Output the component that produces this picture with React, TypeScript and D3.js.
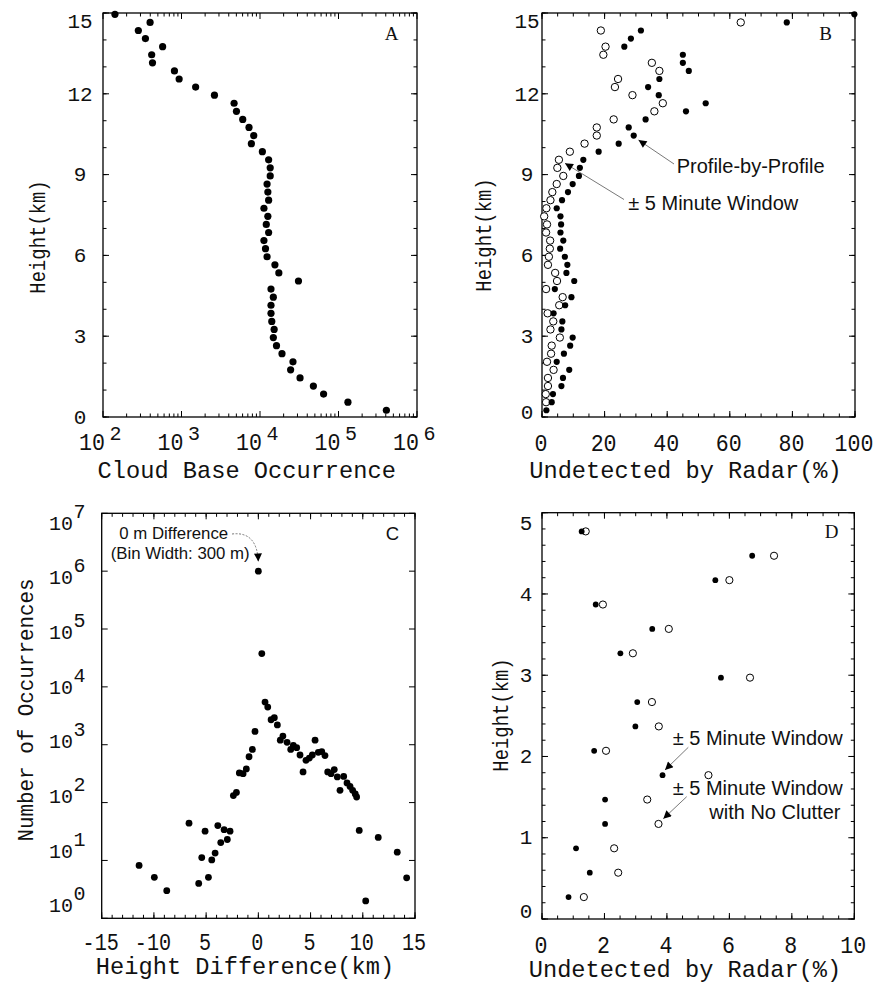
import React from 'react';
import * as d3 from 'd3';

const MONO = "'Liberation Mono','Courier New',monospace";
const SANS = "'Liberation Sans',Arial,Helvetica,sans-serif";
const SERIF = "'Liberation Serif','Times New Roman',serif";

// ---------- Panel A / B shared heights (km) ----------
const heightsAB = [14.95, 14.65, 14.35, 14.05, 13.75, 13.45, 13.15, 12.85, 12.55, 12.25, 11.95, 11.65, 11.35, 11.05, 10.75, 10.45, 10.15, 9.85, 9.55, 9.25, 8.95, 8.65, 8.35, 8.05, 7.75, 7.45, 7.15, 6.85, 6.55, 6.25, 5.95, 5.65, 5.35, 5.05, 4.75, 4.45, 4.15, 3.85, 3.55, 3.25, 2.95, 2.65, 2.35, 2.05, 1.75, 1.45, 1.15, 0.85, 0.55, 0.25];

// ---------- Panel A: cloud base occurrence ----------
const cloudBaseOccurrence = [142, 398, 282, 347, 575, 417, 427, 813, 933, 1514, 2630, 4677, 5012, 6026, 7244, 8318, 7762, 10715, 12882, 13490, 13490, 12303, 12589, 12882, 11220, 12589, 12023, 12882, 11220, 11749, 12303, 15488, 17378, 30903, 13804, 14791, 13804, 13804, 14125, 15136, 14791, 16218, 19055, 26303, 24547, 32359, 47863, 64565, 131826, 407380];

// ---------- Panel B: undetected by radar (%) ----------
const profileByProfile = [99.8, 78.2, 31.6, 28.4, 26.3, 45.0, 45.0, 46.9, 37.5, 33.9, 37.3, 52.3, 46.0, 33.1, 27.7, 29.3, 24.5, 18.1, 13.2, 12.1, 11.8, 9.8, 8.3, 6.4, 4.7, 5.9, 6.1, 5.9, 6.8, 5.8, 7.3, 8.1, 7.8, 10.3, 4.1, 9.4, 7.4, 3.7, 6.5, 6.2, 9.8, 9.0, 7.0, 4.7, 8.7, 6.7, 6.2, 3.5, 3.1, 1.4];
const fiveMinuteWindowB = [null, 63.5, 18.8, null, 20.3, 19.6, 35.1, 37.5, 24.3, 23.3, 28.9, 38.6, 35.9, 22.9, 17.5, 17.5, 13.6, 8.9, 5.4, 4.9, 6.8, 4.7, 3.3, 2.7, 1.4, 0.7, 1.6, 1.3, 2.6, 2.5, 2.2, 1.9, 4.2, 4.8, 1.3, 6.6, 5.5, 1.8, 3.6, 2.7, 5.7, 3.1, 2.9, 1.6, 3.7, 1.9, 1.9, 1.2, 1.3, null];

// ---------- Panel C: height difference histogram ----------
const heightDiff = [-11.42, -9.96, -8.77, -6.64, -5.71, -5.42, -5.1, -4.78, -4.46, -4.14, -3.88, -3.6, -3.28, -2.97, -2.71, -2.39, -2.1, -1.82, -1.46, -1.15, -0.89, -0.57, -0.32, 0.0, 0.33, 0.64, 0.9, 1.22, 1.53, 1.82, 2.1, 2.35, 2.75, 3.1, 3.35, 3.67, 3.99, 4.28, 4.56, 4.88, 5.17, 5.43, 5.74, 6.07, 6.38, 6.64, 6.96, 7.27, 7.56, 7.82, 8.17, 8.49, 8.78, 9.03, 9.28, 9.41, 9.66, 10.28, 11.48, 13.3, 14.2];
const occurrences = [8.2, 5.1, 3.0, 44, 4.0, 11.2, 32, 5.1, 10.2, 13.4, 40, 20.4, 34, 23, 32, 132, 150, 325, 316, 382, 620, 830, 1700, 1000000, 37600, 5450, 4470, 2700, 2930, 2200, 1200, 1410, 1100, 830, 970, 890, 665, 339, 537, 588, 665, 1200, 740, 760, 650, 339, 316, 372, 278, 163, 283, 219, 190, 163, 141, 125, 33, 2.0, 25, 13.9, 5.0];

// ---------- Panel D ----------
const heightsD = [4.77, 4.47, 4.17, 3.87, 3.57, 3.27, 2.97, 2.67, 2.37, 2.07, 1.77, 1.47, 1.17, 0.87, 0.57, 0.27];
const fiveMinuteWindowD = [1.27, 6.73, 5.55, 1.72, 3.53, 2.51, 5.73, 3.05, 2.99, 1.67, 3.86, 2.02, 2.02, 1.09, 1.53, 0.85];
const noClutterD = [1.40, 7.43, 6.00, 1.95, 4.06, 2.91, 6.66, 3.52, 3.74, 2.05, 5.33, 3.37, 3.73, 2.31, 2.44, 1.34];

// ---------- Tick labels ----------
const heightTicksAB = [0, 3, 6, 9, 12, 15];
const occurrenceExponents = [2, 3, 4, 5, 6];
const percentTicksB = [0, 20, 40, 60, 80, 100];
const diffTicks = [-15, -10, -5, 0, 5, 10, 15];
const diffTickLabels = ['-15', '-10', '5', '0', '5', '10', '15'];
const countExponents = [0, 1, 2, 3, 4, 5, 6, 7];
const heightTicksD = [0, 1, 2, 3, 4, 5];
const percentTicksD = [0, 2, 4, 6, 8, 10];

// ---------- Scales ----------
const xA = d3.scaleLog().domain([1e2, 1e6]).range([103, 417]);
const yAB = d3.scaleLinear().domain([0, 15]).range([417, 13]);
const xB = d3.scaleLinear().domain([0, 100]).range([542, 855]);
const xC = d3.scaleLinear().domain([-15, 15]).range([101.7, 415]);
const yC = d3.scaleLog().domain([1, 1e7]).range([918.3, 513.3]);
const yCLabel = d3.scaleLinear().domain([7, 0]).range([523, 905.5]);
const xD = d3.scaleLinear().domain([0, 10]).range([542, 854.3]);
const yD = d3.scaleLinear().domain([0, 5]).range([919, 512.7]);

const steps = (a: number, b: number, s: number) => d3.range(a, b + s / 2, s);

type FrameProps = {
  L: number; R: number; T: number; B: number;
  xMaj: number[]; xMin: number[]; yMaj: number[]; yMin: number[];
};
function Frame({ L, R, T, B, xMaj, xMin, yMaj, yMin }: FrameProps) {
  const maj = 6, min = 3.5;
  const lines: any[] = [];
  xMin.forEach((x, i) => { lines.push(<line key={'xb' + i} x1={x} x2={x} y1={B} y2={B - min} />); lines.push(<line key={'xt' + i} x1={x} x2={x} y1={T} y2={T + min} />); });
  xMaj.forEach((x, i) => { lines.push(<line key={'XB' + i} x1={x} x2={x} y1={B} y2={B - maj} />); lines.push(<line key={'XT' + i} x1={x} x2={x} y1={T} y2={T + maj} />); });
  yMin.forEach((y, i) => { lines.push(<line key={'yl' + i} x1={L} x2={L + min} y1={y} y2={y} />); lines.push(<line key={'yr' + i} x1={R} x2={R - min} y1={y} y2={y} />); });
  yMaj.forEach((y, i) => { lines.push(<line key={'YL' + i} x1={L} x2={L + maj} y1={y} y2={y} />); lines.push(<line key={'YR' + i} x1={R} x2={R - maj} y1={y} y2={y} />); });
  return (
    <g stroke="#000" strokeWidth={1}>
      {lines}
      <rect x={L} y={T} width={R - L} height={B - T} fill="none" strokeWidth={1.3} />
    </g>
  );
}

type TProps = { x: number; y: number; fs: number; sx?: number; anchor?: string; family?: string; rotate?: boolean; children: any };
function T({ x, y, fs, sx = 1, anchor = 'middle', family = MONO, rotate = false, children }: TProps) {
  const tr = rotate ? `translate(${x},${y}) rotate(-90) scale(${sx},1)` : `translate(${x},${y}) scale(${sx},1)`;
  return <text transform={tr} fontSize={fs} fontFamily={family} textAnchor={anchor as any} fill="#111">{children}</text>;
}

const XT = { fs: 24, sx: 0.9 };
const XTC = { fs: 24, sx: 0.84 };
const YT = { fs: 20, sx: 1.05 };
const TT = { fs: 23, sx: 1.03 };
const RT = { fs: 22.5, sx: 0.84 };
const ANN = 20;

function logMinor(d0: number, d1: number) {
  const out: number[] = [];
  for (let e = d0; e < d1; e++) for (let m = 2; m <= 9; m++) out.push(m * Math.pow(10, e));
  return out;
}

function PanelA() {
  const clampY = (y: number) => Math.min(Math.max(y, 21.7), 417);
  return (
    <g>
      <Frame L={103} R={417} T={13} B={417}
        xMaj={occurrenceExponents.map(e => xA(Math.pow(10, e)))}
        xMin={logMinor(2, 6).map(v => xA(v))}
        yMaj={heightTicksAB.map(v => yAB(v))}
        yMin={steps(0, 15, 1).map(v => yAB(v))} />
      {cloudBaseOccurrence.map((v, i) => <circle key={i} cx={xA(v)} cy={yAB(heightsAB[i])} r={3.6} fill="#000" />)}
      {heightTicksAB.map(v => <T key={v} x={80} y={clampY(yAB(v)) + 6.7} {...YT}>{v}</T>)}
      {occurrenceExponents.map(e => (
        <g key={e}>
          <T x={xA(Math.pow(10, e)) + 2} y={450} {...XT} anchor="end">10</T>
          <T x={xA(Math.pow(10, e)) + 6.5} y={440} fs={20} sx={1} anchor="start">{e}</T>
        </g>
      ))}
      <T x={246.7} y={478} {...TT}>Cloud Base Occurrence</T>
      <T x={45} y={237} {...RT} rotate>Height(km)</T>
      <T x={391.7} y={40} fs={19} family={SERIF}>A</T>
    </g>
  );
}

function PanelB() {
  const clampY = (y: number) => Math.min(Math.max(y, 21.7), 412);
  return (
    <g>
      <Frame L={542} R={855} T={13} B={417}
        xMaj={percentTicksB.map(v => xB(v))}
        xMin={steps(0, 100, 5).map(v => xB(v))}
        yMaj={heightTicksAB.map(v => yAB(v))}
        yMin={steps(0, 15, 1).map(v => yAB(v))} />
      {fiveMinuteWindowB.map((v, i) => v == null ? null :
        <circle key={'o' + i} cx={xB(v)} cy={yAB(heightsAB[i])} r={3.7} fill="#fff" stroke="#000" strokeWidth={1} />)}
      {profileByProfile.map((v, i) => <circle key={'f' + i} cx={xB(v)} cy={yAB(heightsAB[i])} r={3.1} fill="#000" />)}
      {heightTicksAB.map(v => <T key={v} x={527} y={clampY(yAB(v)) + 6.7} {...YT}>{v}</T>)}
      {percentTicksB.map(v => <T key={v} x={xB(v) - 1} y={451} {...XT}>{v}</T>)}
      <T x={685.5} y={478} {...TT}>Undetected by Radar(%)</T>
      <T x={491} y={235} {...RT} rotate>Height(km)</T>
      <T x={825.5} y={40} fs={19} family={SERIF}>B</T>
      <line x1={674} y1={164} x2={638.5} y2={140} stroke="#555" strokeWidth={0.8} markerEnd="url(#ah)" />
      <T x={676.7} y={173.3} fs={ANN} family={SANS} anchor="start">Profile-by-Profile</T>
      <line x1={624} y1={199.5} x2={565} y2={163.3} stroke="#555" strokeWidth={0.8} markerEnd="url(#ah)" />
      <T x={628.3} y={210} fs={ANN} family={SANS} anchor="start">± 5 Minute Window</T>
    </g>
  );
}

function PanelC() {
  return (
    <g>
      <Frame L={101.7} R={415} T={513.3} B={918.3}
        xMaj={diffTicks.map(v => xC(v))}
        xMin={steps(-15, 15, 1).map(v => xC(v))}
        yMaj={countExponents.map(e => yC(Math.pow(10, e)))}
        yMin={[]} />
      {occurrences.map((v, i) => <circle key={i} cx={xC(heightDiff[i])} cy={yC(v)} r={3.4} fill="#000" />)}
      {countExponents.map(e => (
        <g key={e}>
          <T x={73} y={yCLabel(e) + 6.7} fs={20} sx={1.0} anchor="end">10</T>
          <T x={73.5} y={yCLabel(e) - 5.3} fs={20} sx={1.0} anchor="start">{e}</T>
        </g>
      ))}
      {diffTicks.map((v, i) => <T key={v} x={xC(v) - 1} y={950} {...XTC}>{diffTickLabels[i]}</T>)}
      <T x={245} y={974} {...TT}>Height Difference(km)</T>
      <T x={33} y={710} fs={22} sx={0.95} rotate>Number of Occurrences</T>
      <T x={392.5} y={540} fs={18.5} family={SANS}>C</T>
      <T x={119.3} y={539.3} fs={16.8} family={SANS} anchor="start">0 m Difference</T>
      <T x={110.7} y={559.3} fs={16.8} family={SANS} anchor="start">(Bin Width: 300 m)</T>
      <path d="M 232 534 Q 257 531 258.3 561.5" fill="none" stroke="#555" strokeWidth={0.8} strokeDasharray="2,1.5" markerEnd="url(#ah)" />
    </g>
  );
}

function PanelD() {
  const clampY = (y: number) => Math.min(Math.max(y, 523), 911.7);
  return (
    <g>
      <Frame L={542} R={854.3} T={512.7} B={919}
        xMaj={percentTicksD.map(v => xD(v))}
        xMin={steps(0, 10, 0.5).map(v => xD(v))}
        yMaj={heightTicksD.map(v => yD(v))}
        yMin={steps(0, 5, 0.2).map(v => yD(v))} />
      {noClutterD.map((v, i) => <circle key={'o' + i} cx={xD(v)} cy={yD(heightsD[i])} r={3.6} fill="#fff" stroke="#000" strokeWidth={1} />)}
      {fiveMinuteWindowD.map((v, i) => <circle key={'f' + i} cx={xD(v)} cy={yD(heightsD[i])} r={2.9} fill="#000" />)}
      {heightTicksD.map(v => <T key={v} x={526} y={clampY(yD(v)) + 6.7} {...YT}>{v}</T>)}
      {percentTicksD.map(v => <T key={v} x={xD(v) - 1} y={953} {...XT}>{v}</T>)}
      <T x={685} y={977} {...TT}>Undetected by Radar(%)</T>
      <T x={508} y={715} {...RT} rotate>Height(km)</T>
      <T x={831.5} y={538} fs={19} family={SERIF}>D</T>
      <line x1={688.3} y1={747.3} x2={665} y2={770} stroke="#555" strokeWidth={0.8} markerEnd="url(#ah)" />
      <T x={672.7} y={745} fs={ANN} family={SANS} anchor="start">± 5 Minute Window</T>
      <line x1={686.7} y1={796.7} x2={663.3} y2={818.7} stroke="#555" strokeWidth={0.8} markerEnd="url(#ah)" />
      <T x={672.7} y={795} fs={ANN} family={SANS} anchor="start">± 5 Minute Window</T>
      <T x={709.3} y={819.3} fs={ANN} family={SANS} anchor="start">with No Clutter</T>
    </g>
  );
}

export default function App() {
  return (
    <svg width={876} height={985} viewBox="0 0 876 985"
      style={{ position: 'absolute', left: 0, top: 0, background: '#fff' }}>
      <defs>
        <marker id="ah" viewBox="0 0 10 10" refX={10} refY={5} markerWidth={11} markerHeight={8}
          markerUnits="userSpaceOnUse" orient="auto">
          <path d="M0,0 L10,5 L0,10 z" fill="#000" />
        </marker>
      </defs>
      <rect x={0} y={0} width={876} height={985} fill="#fff" />
      <PanelA />
      <PanelB />
      <PanelC />
      <PanelD />
    </svg>
  );
}
